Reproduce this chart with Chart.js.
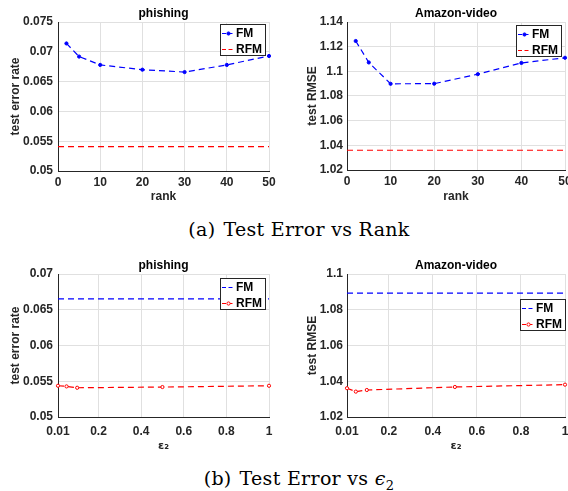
<!DOCTYPE html>
<html>
<head>
<meta charset="utf-8">
<script src="https://cdn.jsdelivr.net/npm/chart.js@4.4.1/dist/chart.umd.min.js"></script>
<style>
  body { margin: 0; background: #fff; width: 568px; height: 491px; overflow: hidden; position: relative; }
  canvas { position: absolute; }
  .cap { position: absolute; left: 0; width: 598px; text-align: center; font-family: "DejaVu Serif", serif;
         font-size: 19px; letter-spacing: 0.3px; line-height: 20px; color: #000; white-space: nowrap; }
  .cap .gap { display: inline-block; width: 8px; }
</style>
</head>
<body>
<canvas id="rankPhishing" width="284" height="205" style="left:0;top:0"></canvas>
<canvas id="rankAmazon" width="300" height="205" style="left:284px;top:0"></canvas>
<canvas id="epsPhishing" width="284" height="205" style="left:0;top:250px"></canvas>
<canvas id="epsAmazon" width="300" height="205" style="left:284px;top:250px"></canvas>
<div class="cap" style="top:219px">(a)<span class="gap"></span>Test Error vs Rank</div>
<div class="cap" style="top:468px">(b)<span class="gap"></span>Test Error vs <i>ϵ</i><sub style="font-size:13px">2</sub></div>
<script>
// rank sweep
const ranks = [2, 5, 10, 20, 30, 40, 50];
const phishingFmRank = [0.0714, 0.0692, 0.0678, 0.0670, 0.0666, 0.0678, 0.0693];
const phishingRfmRankX = [0, 50];
const phishingRfmRankY = [0.0541, 0.0541];
const amazonFmRank = [1.1246, 1.1072, 1.0899, 1.0900, 1.0977, 1.1068, 1.1110];
const amazonRfmRankX = [0, 50];
const amazonRfmRankY = [1.0360, 1.0360];

// epsilon_2 sweep
const eps = [0.01, 0.05, 0.1, 0.5, 1];
const phishingRfmEps = [0.05437, 0.05428, 0.05409, 0.05419, 0.05437];
const phishingFmEpsX = [0.01, 1];
const phishingFmEpsY = [0.06651, 0.06651];
const amazonRfmEps = [1.0361, 1.0342, 1.0351, 1.0368, 1.0381];
const amazonFmEpsX = [0.01, 1];
const amazonFmEpsY = [1.0893, 1.0893];

// ticks
const rankTicks = [0, 10, 20, 30, 40, 50];
const rankTickLabels = ['0', '10', '20', '30', '40', '50'];
const epsTicks = [0.01, 0.2, 0.4, 0.6, 0.8, 1];
const epsTickLabels = ['0.01', '0.2', '0.4', '0.6', '0.8', '1'];
const phishingRankYTicks = [0.05, 0.055, 0.06, 0.065, 0.07, 0.075];
const phishingRankYLabels = ['0.05', '0.055', '0.06', '0.065', '0.07', '0.075'];
const amazonRankYTicks = [1.02, 1.04, 1.06, 1.08, 1.1, 1.12, 1.14];
const amazonRankYLabels = ['1.02', '1.04', '1.06', '1.08', '1.1', '1.12', '1.14'];
const phishingEpsYTicks = [0.05, 0.055, 0.06, 0.065, 0.07];
const phishingEpsYLabels = ['0.05', '0.055', '0.06', '0.065', '0.07'];
const amazonEpsYTicks = [1.02, 1.04, 1.06, 1.08, 1.1];
const amazonEpsYLabels = ['1.02', '1.04', '1.06', '1.08', '1.1'];

const BLUE = '#0000ff';
const RED = '#ff0000';
const TXT = '#262626';
const font = { family: '"Liberation Sans", Arial, sans-serif', size: 12, weight: 'bold' };
const epsFont = { family: '"DejaVu Sans", sans-serif', size: 11, weight: 'bold' };

const pts = (xs, ys) => xs.map((x, i) => ({ x: x, y: ys[i] }));

function series(label, color, data, marker, hollow) {
  return {
    label: label, data: data, borderColor: color, borderWidth: 1.2, borderDash: [6, 4],
    pointRadius: marker ? 1.6 : 0, pointBorderWidth: 1, pointBorderColor: color,
    pointBackgroundColor: hollow ? '#fff' : color, fill: false, tension: 0, clip: 4
  };
}

// MATLAB style legend box inside the axes
const boxLegend = {
  id: 'boxLegend',
  afterDraw(chart, args, opts) {
    const { ctx, chartArea } = chart;
    const w = 45, h = 31;
    const x = Math.round(chartArea.right - opts.right - w), y = Math.round(chartArea.top + opts.top);
    ctx.save();
    ctx.fillStyle = '#fff';
    ctx.fillRect(x, y, w, h);
    ctx.strokeStyle = TXT;
    ctx.lineWidth = 1;
    ctx.strokeRect(x + 0.5, y + 0.5, w, h);
    chart.data.datasets.forEach((ds, i) => {
      const yy = y + 9.5 + i * 16;
      ctx.strokeStyle = ds.borderColor;
      ctx.lineWidth = ds.borderWidth;
      ctx.setLineDash([4, 2.5]);
      ctx.beginPath();
      ctx.moveTo(x + 2, yy);
      ctx.lineTo(x + 15, yy);
      ctx.stroke();
      ctx.setLineDash([]);
      if (ds.pointRadius > 0) {
        ctx.beginPath();
        ctx.arc(x + 8.5, yy, 1.6, 0, Math.PI * 2);
        ctx.fillStyle = ds.pointBackgroundColor;
        ctx.fill();
        ctx.lineWidth = 1;
        ctx.stroke();
      }
      ctx.fillStyle = '#000';
      ctx.font = 'bold 12px "Liberation Sans", Arial, sans-serif';
      ctx.textBaseline = 'middle';
      ctx.fillText(ds.label, x + 16, yy + 0.5);
    });
    ctx.restore();
  }
};

const axTitle = {
  id: 'axTitle',
  afterDraw(chart, args, opts) {
    const { ctx, chartArea } = chart;
    ctx.save();
    ctx.fillStyle = '#000';
    ctx.font = 'bold 12px "Liberation Sans", Arial, sans-serif';
    ctx.textAlign = 'center';
    ctx.textBaseline = 'middle';
    ctx.fillText(opts.text, (chartArea.left + chartArea.right) / 2, chartArea.top - 8);
    ctx.restore();
  }
};

function axis(min, max, ticks, labels, size, pad, title, titlePad, isX, tFont) {
  return {
    type: 'linear', min: min, max: max,
    afterFit: s => { if (isX) s.height = size; else s.width = size; },
    afterBuildTicks: s => { s.ticks = ticks.map(v => ({ value: v })); },
    ticks: { padding: pad, font: font, color: TXT, autoSkip: false, maxRotation: 0,
             callback: (v, i) => labels[i] },
    grid: { color: '#e0e0e0', drawTicks: false, lineWidth: 1 },
    border: { color: TXT, width: 1 },
    title: { display: true, text: title, font: tFont || font, color: TXT,
             padding: isX ? { top: 0, bottom: titlePad } : { top: titlePad, bottom: 0 } }
  };
}

function plot(id, o) {
  return new Chart(document.getElementById(id), {
    type: 'line',
    data: { datasets: o.datasets },
    options: {
      responsive: false, animation: false, events: [],
      layout: { padding: { left: 0, top: o.top, right: o.right, bottom: 0 } },
      plugins: {
        legend: { display: false }, tooltip: { enabled: false },
        boxLegend: { top: o.legTop, right: o.legRight },
        axTitle: { text: o.title }
      },
      scales: { x: o.x, y: o.y }
    },
    plugins: [boxLegend, axTitle]
  });
}

plot('rankPhishing', {
  title: 'phishing', top: 22, right: 15, legTop: 2, legRight: 4,
  datasets: [series('FM', BLUE, pts(ranks, phishingFmRank), true, false),
             series('RFM', RED, pts(phishingRfmRankX, phishingRfmRankY), false, false)],
  x: axis(0, 50, rankTicks, rankTickLabels, 34, 4, 'rank', 1, true),
  y: axis(0.05, 0.075, phishingRankYTicks, phishingRankYLabels, 58, 5, 'test error rate', 8, false)
});

plot('rankAmazon', {
  title: 'Amazon-video', top: 22, right: 19, legTop: 2.5, legRight: 4,
  datasets: [series('FM', BLUE, pts(ranks, amazonFmRank), true, false),
             series('RFM', RED, pts(amazonRfmRankX, amazonRfmRankY), false, false)],
  x: axis(0, 50, rankTicks, rankTickLabels, 35, 4, 'rank', 1, true),
  y: axis(1.02, 1.14, amazonRankYTicks, amazonRankYLabels, 63, 4, 'test RMSE', 21, false)
});

plot('epsPhishing', {
  title: 'phishing', top: 24, right: 15, legTop: 3.5, legRight: 4,
  datasets: [series('FM', BLUE, pts(phishingFmEpsX, phishingFmEpsY), false, false),
             series('RFM', RED, pts(eps, phishingRfmEps), true, true)],
  x: axis(0.01, 1, epsTicks, epsTickLabels, 38, 7, 'ε₂', 2, true, epsFont),
  y: axis(0.05, 0.07, phishingEpsYTicks, phishingEpsYLabels, 58, 5, 'test error rate', 8, false)
});

plot('epsAmazon', {
  title: 'Amazon-video', top: 24, right: 19, legTop: 25, legRight: 0,
  datasets: [series('FM', BLUE, pts(amazonFmEpsX, amazonFmEpsY), false, false),
             series('RFM', RED, pts(eps, amazonRfmEps), true, true)],
  x: axis(0.01, 1, epsTicks, epsTickLabels, 38, 7, 'ε₂', 2, true, epsFont),
  y: axis(1.02, 1.1, amazonEpsYTicks, amazonEpsYLabels, 63, 4, 'test RMSE', 21, false)
});
</script>
</body>
</html>
